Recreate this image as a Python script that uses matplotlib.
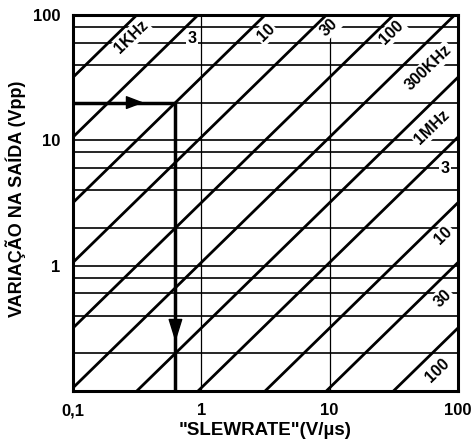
import numpy as np
import matplotlib
matplotlib.use("Agg")
import matplotlib.pyplot as plt

plt.rcParams["font.family"] = ["Liberation Sans", "DejaVu Sans"]
plt.rcParams["font.weight"] = "bold"

# Constant-frequency lines: Vpp = SR / (pi * f), SR in V/us
freqs_hz = [1e3, 3e3, 1e4, 3e4, 1e5, 3e5, 1e6, 3e6, 1e7, 3e7, 1e8]
freq_labels = ["1KHz", "3", "10", "30", "100", "300KHz", "1MHz", "3", "10", "30", "100"]

# Where each frequency label sits along its line (in Vpp) and how far right of it
label_vpp = [66.7, 65, 72, 80, 73, 38, 12.7, 6.0, 1.75, 0.55, 0.145]
label_dx_px = [17, 18, 19, 15, 16, 28, 25, 19, 19, 21, 23]
label_upright = [False, True, False, False, False, False, False, True, False, False, False]

# Axes ticks and grid
x_ticks = [0.1, 1, 10, 100]
x_tick_labels = ["0,1", "1", "10", "100"]
y_ticks = [1, 10, 100]
y_tick_labels = ["1", "10", "100"]
h_grid = [0.2, 0.4, 0.6, 0.8, 1, 2, 4, 6, 8, 10, 20, 40, 60, 80]
v_grid = [1, 10]

# Worked example: 20 Vpp at 10 kHz
example_vpp = 20.0
example_freq = 1e4


def slew_for(vpp, f):
    return vpp * np.pi * f / 1e6


def vpp_for(sr, f):
    return sr * 1e6 / (np.pi * f)


fig = plt.figure(figsize=(4.76, 4.43), dpi=100)
ax = fig.add_axes([0.1534, 0.1174, 0.8088, 0.8488])
ax.set_xscale("log")
ax.set_yscale("log")
ax.set_xlim(0.1, 100)
ax.set_ylim(0.1, 100)

for v in h_grid:
    ax.axhline(v, color="black", lw=1.2, zorder=1)
for x in v_grid:
    ax.axvline(x, color="black", lw=0.9, zorder=1)

sr_span = np.array([1e-3, 1e4])
for f in freqs_hz:
    ax.plot(sr_span, vpp_for(sr_span, f), color="black", lw=2.0,
            solid_capstyle="butt", zorder=3)

for f, text, v, dx, up in zip(freqs_hz, freq_labels, label_vpp, label_dx_px, label_upright):
    ax.annotate(text, xy=(slew_for(v, f), v), xytext=(dx, 0),
                textcoords="offset pixels", ha="center", va="center",
                rotation=0 if up else 44, rotation_mode="anchor",
                fontsize=11.5, fontweight="bold",
                bbox=dict(boxstyle="square,pad=0.1", fc="white", ec="none"),
                zorder=2)

# Example path with arrows
sr_ex = slew_for(example_vpp, example_freq)
ax.plot([0.1, sr_ex, sr_ex], [example_vpp, example_vpp, 0.1], color="black",
        lw=2.5, solid_joinstyle="miter", zorder=4)

lx0, lx1 = np.log10(0.1), np.log10(sr_ex)
h_tip = 10 ** (lx0 + 0.69 * (lx1 - lx0))
ly0, ly1 = np.log10(example_vpp), np.log10(0.1)
v_tip = 10 ** (ly0 + 0.83 * (ly1 - ly0))
head = dict(arrowstyle="-|>,head_length=1.1,head_width=0.42", mutation_scale=10,
            color="black", lw=1, shrinkA=0, shrinkB=0)
ax.annotate("", xy=(h_tip, example_vpp), xytext=(h_tip / 1.3, example_vpp),
            arrowprops=head, zorder=5)
head_v = dict(head, arrowstyle="-|>,head_length=1.45,head_width=0.45")
ax.annotate("", xy=(sr_ex, v_tip), xytext=(sr_ex, v_tip * 1.3),
            arrowprops=head_v, zorder=5)

ax.set_xticks(x_ticks)
ax.set_xticklabels(x_tick_labels)
ax.set_yticks(y_ticks)
ax.set_yticklabels(y_tick_labels)
ax.minorticks_off()
ax.tick_params(length=0, labelsize=12, pad=9)
for lab in ax.get_xticklabels() + ax.get_yticklabels():
    lab.set_fontweight("bold")

for sp in ax.spines.values():
    sp.set_linewidth(2.2)
    sp.set_zorder(6)

ax.set_xlabel('"SLEWRATE"(V/\u00b5s)', fontsize=13.5, fontweight="bold")
ax.xaxis.set_label_coords(0.5, -0.104)
ax.xaxis.label.set_va("center")
ax.set_ylabel("VARIAÇÃO NA SAÍDA (Vpp)", fontsize=13, fontweight="bold")
ax.yaxis.set_label_coords(-0.15, 0.51)
ax.yaxis.label.set_va("center")

fig.savefig("out.png", dpi=100)
